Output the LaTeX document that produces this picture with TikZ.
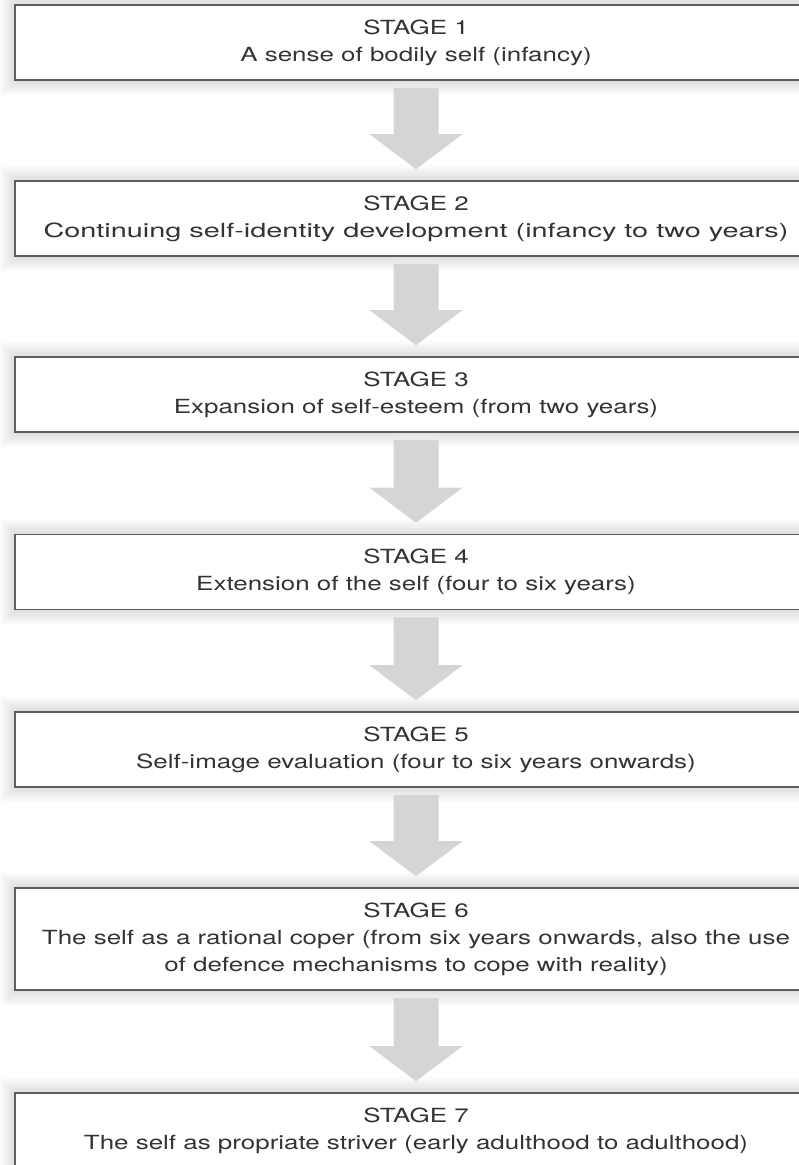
\documentclass[tikz,border=0pt]{standalone}
\usepackage{fontspec}
\setmainfont[FakeStretch=1.33]{TeX Gyre Heros}
\newfontfamily\widerface[FakeStretch=1.48]{TeX Gyre Heros}
\usetikzlibrary{calc,backgrounds}
\definecolor{boxline}{HTML}{5E5E5E}
\definecolor{arrowgray}{HTML}{D5D5D5}
\definecolor{txt}{HTML}{333333}
\begin{document}
\begin{tikzpicture}[x=1pt,y=-1pt,
  stagebox/.style={draw=boxline, line width=1.6pt, fill=white, rectangle,
    minimum width=802pt, minimum height=75pt, inner sep=0pt, align=center,
    text=txt, font=\fontsize{19.5}{27}\selectfont},
  flowarrow/.style={fill=arrowgray},
  glow/.style={draw=black, draw opacity=0.012}]
\useasboundingbox (0,0) rectangle (799,1165);
\clip (0,0) rectangle (799,1165);

% stage boxes
\node[stagebox] (s1) at (416,42.5) {STAGE 1\\A sense of bodily self (infancy)};
\node[stagebox] (s2) at (416,218.5) {STAGE 2\\{\widerface Continuing self-identity development (infancy to two years)}};
\node[stagebox] (s3) at (416,394.5) {STAGE 3\\Expansion of self-esteem (from two years)};
\node[stagebox] (s4) at (416,572) {STAGE 4\\Extension of the self (four to six years)};
\node[stagebox] (s5) at (416,749.5) {STAGE 5\\Self-image evaluation (four to six years onwards)};
\node[stagebox, minimum height=102pt] (s6) at (416,939) {STAGE 6\\The self as a rational coper (from six years onwards, also the use\\of defence mechanisms to cope with reality)};
\node[stagebox] (s7) at (416,1130.5) {STAGE 7\\The self as propriate striver (early adulthood to adulthood)};

% soft shadow around each box
\begin{scope}[on background layer]
  \foreach \n in {s1,s2,s3,s4,s5,s6,s7}
    \foreach \w in {3,6,...,30}
      \draw[glow, line width=\w pt] (\n.south west) rectangle (\n.north east);
\end{scope}

% block arrows between consecutive stages
\foreach \a/\b in {s1/s2,s2/s3,s3/s4,s4/s5,s5/s6,s6/s7} {
  \fill[flowarrow] let \p1=(\a.south), \p2=(\b.north) in
    (\x1-22.5pt,\y1-7pt) -- (\x1+22.5pt,\y1-7pt) -- (\x1+22.5pt,\y2+46pt)
    -- (\x1+46.5pt,\y2+46pt) -- (\x1,\y2+11pt) -- (\x1-46.5pt,\y2+46pt)
    -- (\x1-22.5pt,\y2+46pt) -- cycle;
}
\end{tikzpicture}
\end{document}
